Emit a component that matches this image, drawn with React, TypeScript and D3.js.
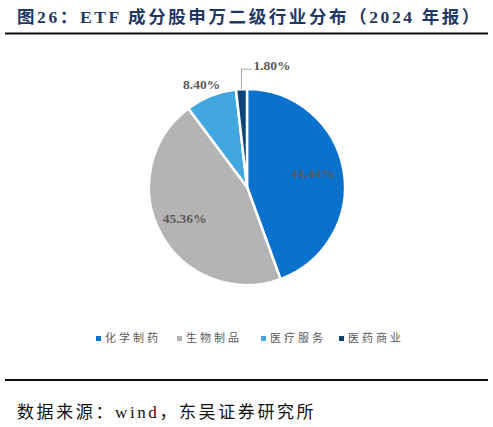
import * as React from 'react'
import { useEffect, useRef } from 'react'
import * as d3 from 'd3'

const categories = ['化学制药', '生物制品', '医疗服务', '医药商业']
const shares = [44.44, 45.36, 8.40, 1.80]
const colors = ['#0A72CC', '#B4B4B4', '#42A6DF', '#0C4478']

const W = 493
const H = 427

const App = () => {
    const chartRef = useRef<SVGSVGElement>(null)

    useEffect(() => {
        const svg = d3.select(chartRef.current)
        svg.selectAll('*').remove()

        svg.append('rect').attr('width', W).attr('height', H).attr('fill', '#fff')

        // title
        svg.append('text')
            .attr('x', 17)
            .attr('y', 23)
            .style('font-family', '"Liberation Serif", "Noto Sans CJK SC", serif')
            .style('font-size', '17.5px')
            .style('font-weight', 'bold')
            .style('letter-spacing', '2.6px')
            .attr('fill', '#1F3864')
            .text('图26：ETF 成分股申万二级行业分布（2024 年报）')

        svg.append('line')
            .attr('x1', 5).attr('x2', 488)
            .attr('y1', 33.5).attr('y2', 33.5)
            .attr('stroke', '#111').attr('stroke-width', 2)

        const cx = 247
        const cy = 187
        const r = 98

        const pie = d3.pie<number>().sort(null).value(d => d)
        const arcs = pie(shares)
        const arc = d3.arc<d3.PieArcDatum<number>>().innerRadius(0).outerRadius(r)

        const g = svg.append('g').attr('transform', `translate(${cx},${cy})`)

        g.selectAll('path')
            .data(arcs)
            .enter()
            .append('path')
            .attr('d', arc)
            .attr('fill', (d, i) => colors[i])
            .attr('stroke', '#fff')
            .attr('stroke-width', 2.5)
            .attr('stroke-linejoin', 'round')

        const labelStyle = (sel) => sel
            .style('font-family', '"Liberation Serif", serif')
            .style('font-size', '13.5px')
            .style('font-weight', 'bold')
            .attr('fill', '#595959')

        // inside labels
        const inner = d3.arc<d3.PieArcDatum<number>>().innerRadius(r * 0.7).outerRadius(r * 0.7)
        const insidePos = [inner.centroid(arcs[0]), inner.centroid(arcs[1])]
        insidePos.forEach((p, i) => {
            g.append('text')
                .attr('x', p[0] - 2)
                .attr('y', p[1])
                .attr('text-anchor', 'middle')
                .attr('dominant-baseline', 'middle')
                .call(labelStyle)
                .text(shares[i].toFixed(2) + '%')
        })

        // 8.40% outside
        const out = d3.arc<d3.PieArcDatum<number>>().innerRadius(r * 1.12).outerRadius(r * 1.12)
        const p2 = out.centroid(arcs[2])
        g.append('text')
            .attr('x', p2[0] - 5)
            .attr('y', p2[1] + 1)
            .attr('text-anchor', 'middle')
            .attr('dominant-baseline', 'middle')
            .call(labelStyle)
            .text(shares[2].toFixed(2) + '%')

        // 1.80% with leader
        const mid = (arcs[3].startAngle + arcs[3].endAngle) / 2
        const ex = Math.sin(mid) * r
        const ey = -Math.cos(mid) * r
        const ly = ey - 20
        g.append('polyline')
            .attr('points', `${ex},${ey} ${ex},${ly} ${ex + 10},${ly}`)
            .attr('fill', 'none')
            .attr('stroke', '#A6A6A6')
            .attr('stroke-width', 1)
        g.append('text')
            .attr('x', ex + 12)
            .attr('y', ly - 2)
            .attr('dominant-baseline', 'middle')
            .call(labelStyle)
            .text(shares[3].toFixed(2) + '%')

        // legend
        const legendX = [97, 178, 262, 340]
        const lg = svg.append('g')
        categories.forEach((c, i) => {
            lg.append('rect')
                .attr('x', legendX[i] - 1)
                .attr('y', 336)
                .attr('width', 5)
                .attr('height', 5)
                .attr('fill', colors[i])
            lg.append('text')
                .attr('x', legendX[i] + 8)
                .attr('y', 339)
                .attr('dominant-baseline', 'middle')
                .style('font-family', '"Noto Sans CJK SC", sans-serif')
                .style('font-size', '11px')
                .style('letter-spacing', '3px')
                .attr('fill', '#595959')
                .text(c)
        })

        svg.append('line')
            .attr('x1', 5).attr('x2', 488)
            .attr('y1', 380).attr('y2', 380)
            .attr('stroke', '#111').attr('stroke-width', 2)

        svg.append('text')
            .attr('x', 17)
            .attr('y', 418)
            .style('font-family', '"Liberation Serif", "Noto Sans CJK SC", serif')
            .style('font-size', '17px')
            .style('letter-spacing', '2.6px')
            .attr('fill', '#111')
            .text('数据来源：wind，东吴证券研究所')
    }, [])

    return (
        <svg ref={chartRef} width={W} height={H}
            style={{ position: 'absolute', left: 0, top: 0, display: 'block' }} />
    )
}

export default App
